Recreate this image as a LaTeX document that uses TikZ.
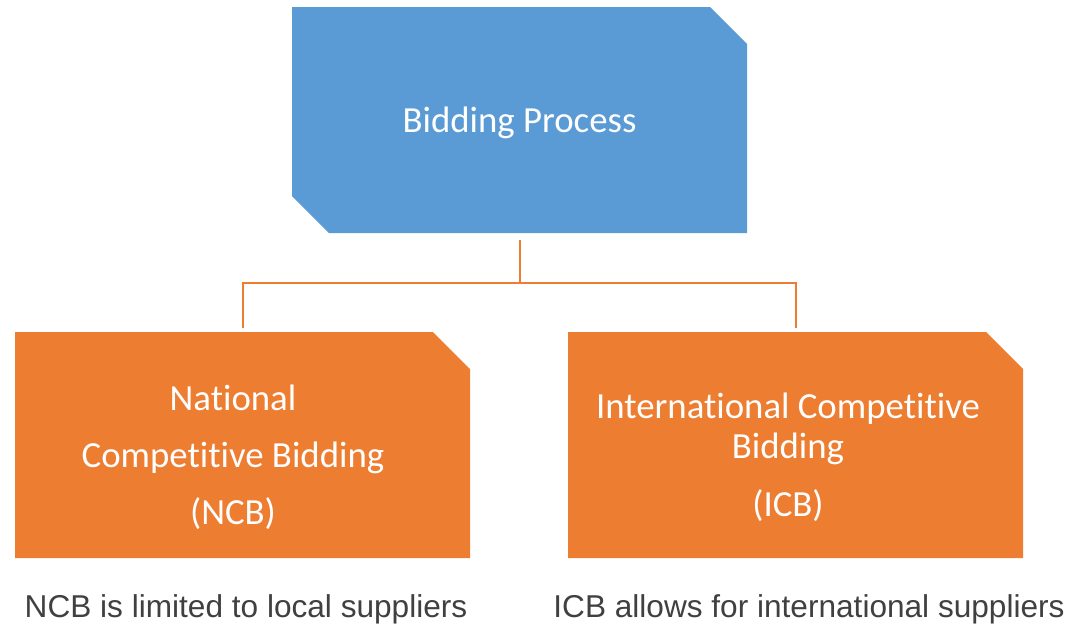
\documentclass[tikz,border=0pt]{standalone}
\usepackage{fontspec}
\setmainfont{Carlito}[Ligatures={NoCommon,NoContextual}]
\newfontfamily\notefont{Liberation Sans}
\definecolor{bidblue}{HTML}{5B9BD5}
\definecolor{bidorange}{HTML}{ED7D31}
\definecolor{notegray}{HTML}{404040}
\tikzset{every picture/.style={thick}}
\tikzset{cut box/.style={rectangle,minimum width=227.5pt,minimum height=113pt,inner sep=0pt,draw=none}}
% one corner cut off (top right)
\tikzset{cut ne/.style={cut box,path picture={\fill[#1] (path picture bounding box.north west)
    -- ([xshift=-18.5pt]path picture bounding box.north east)
    -- ([yshift=-18.5pt]path picture bounding box.north east)
    -- (path picture bounding box.south east)
    -- (path picture bounding box.south west) -- cycle;}}}
% two corners cut off (top right, bottom left)
\tikzset{cut ne sw/.style={cut box,path picture={\fill[#1] (path picture bounding box.north west)
    -- ([xshift=-18.5pt]path picture bounding box.north east)
    -- ([yshift=-18.5pt]path picture bounding box.north east)
    -- (path picture bounding box.south east)
    -- ([xshift=18.5pt]path picture bounding box.south west)
    -- ([yshift=18.5pt]path picture bounding box.south west) -- cycle;}}}
\tikzset{box text/.style={text=white,align=center,
    font=\fontsize{18.4}{20}\selectfont}}
\tikzset{note/.style={anchor=base,text=notegray,font=\notefont\fontsize{15.8}{18}\selectfont}}
\tikzset{link/.style={draw=bidorange,line width=1pt}}

\begin{document}
\begin{tikzpicture}[x=0.5pt,y=-0.5pt]
      \useasboundingbox (0,0) rectangle (1076,627);
      \node[cut ne sw=bidblue,box text,text depth=0pt] (bid) at (519.5,120) {Bidding Process};
      \node[cut ne=bidorange] (ncb) at (242.5,445) {};
      \node[cut ne=bidorange] (icb) at (795.5,445) {};
      \node[box text] (ncbtext) at (233,457) {National\\[8.5pt]Competitive Bidding\\[8.5pt](NCB)};
      \node[box text] (icbtext) at (788,457) {International Competitive\\Bidding\\[9pt](ICB)};
      % connectors
      \coordinate (split) at (519.5,283);
      \draw[link,shorten <=3pt] (bid.south) -- (split);
      \draw[link,shorten >=1.5pt] (split) -| (ncb.north);
      \draw[link,shorten >=1.5pt] (split) -| (icb.north);
      % notes under the boxes
      \node[note] (ncbnote) at (246,617) {NCB is limited to local suppliers};
      \node[note] (icbnote) at (809,617) {ICB allows for international suppliers};
    \end{tikzpicture}
\end{document}
